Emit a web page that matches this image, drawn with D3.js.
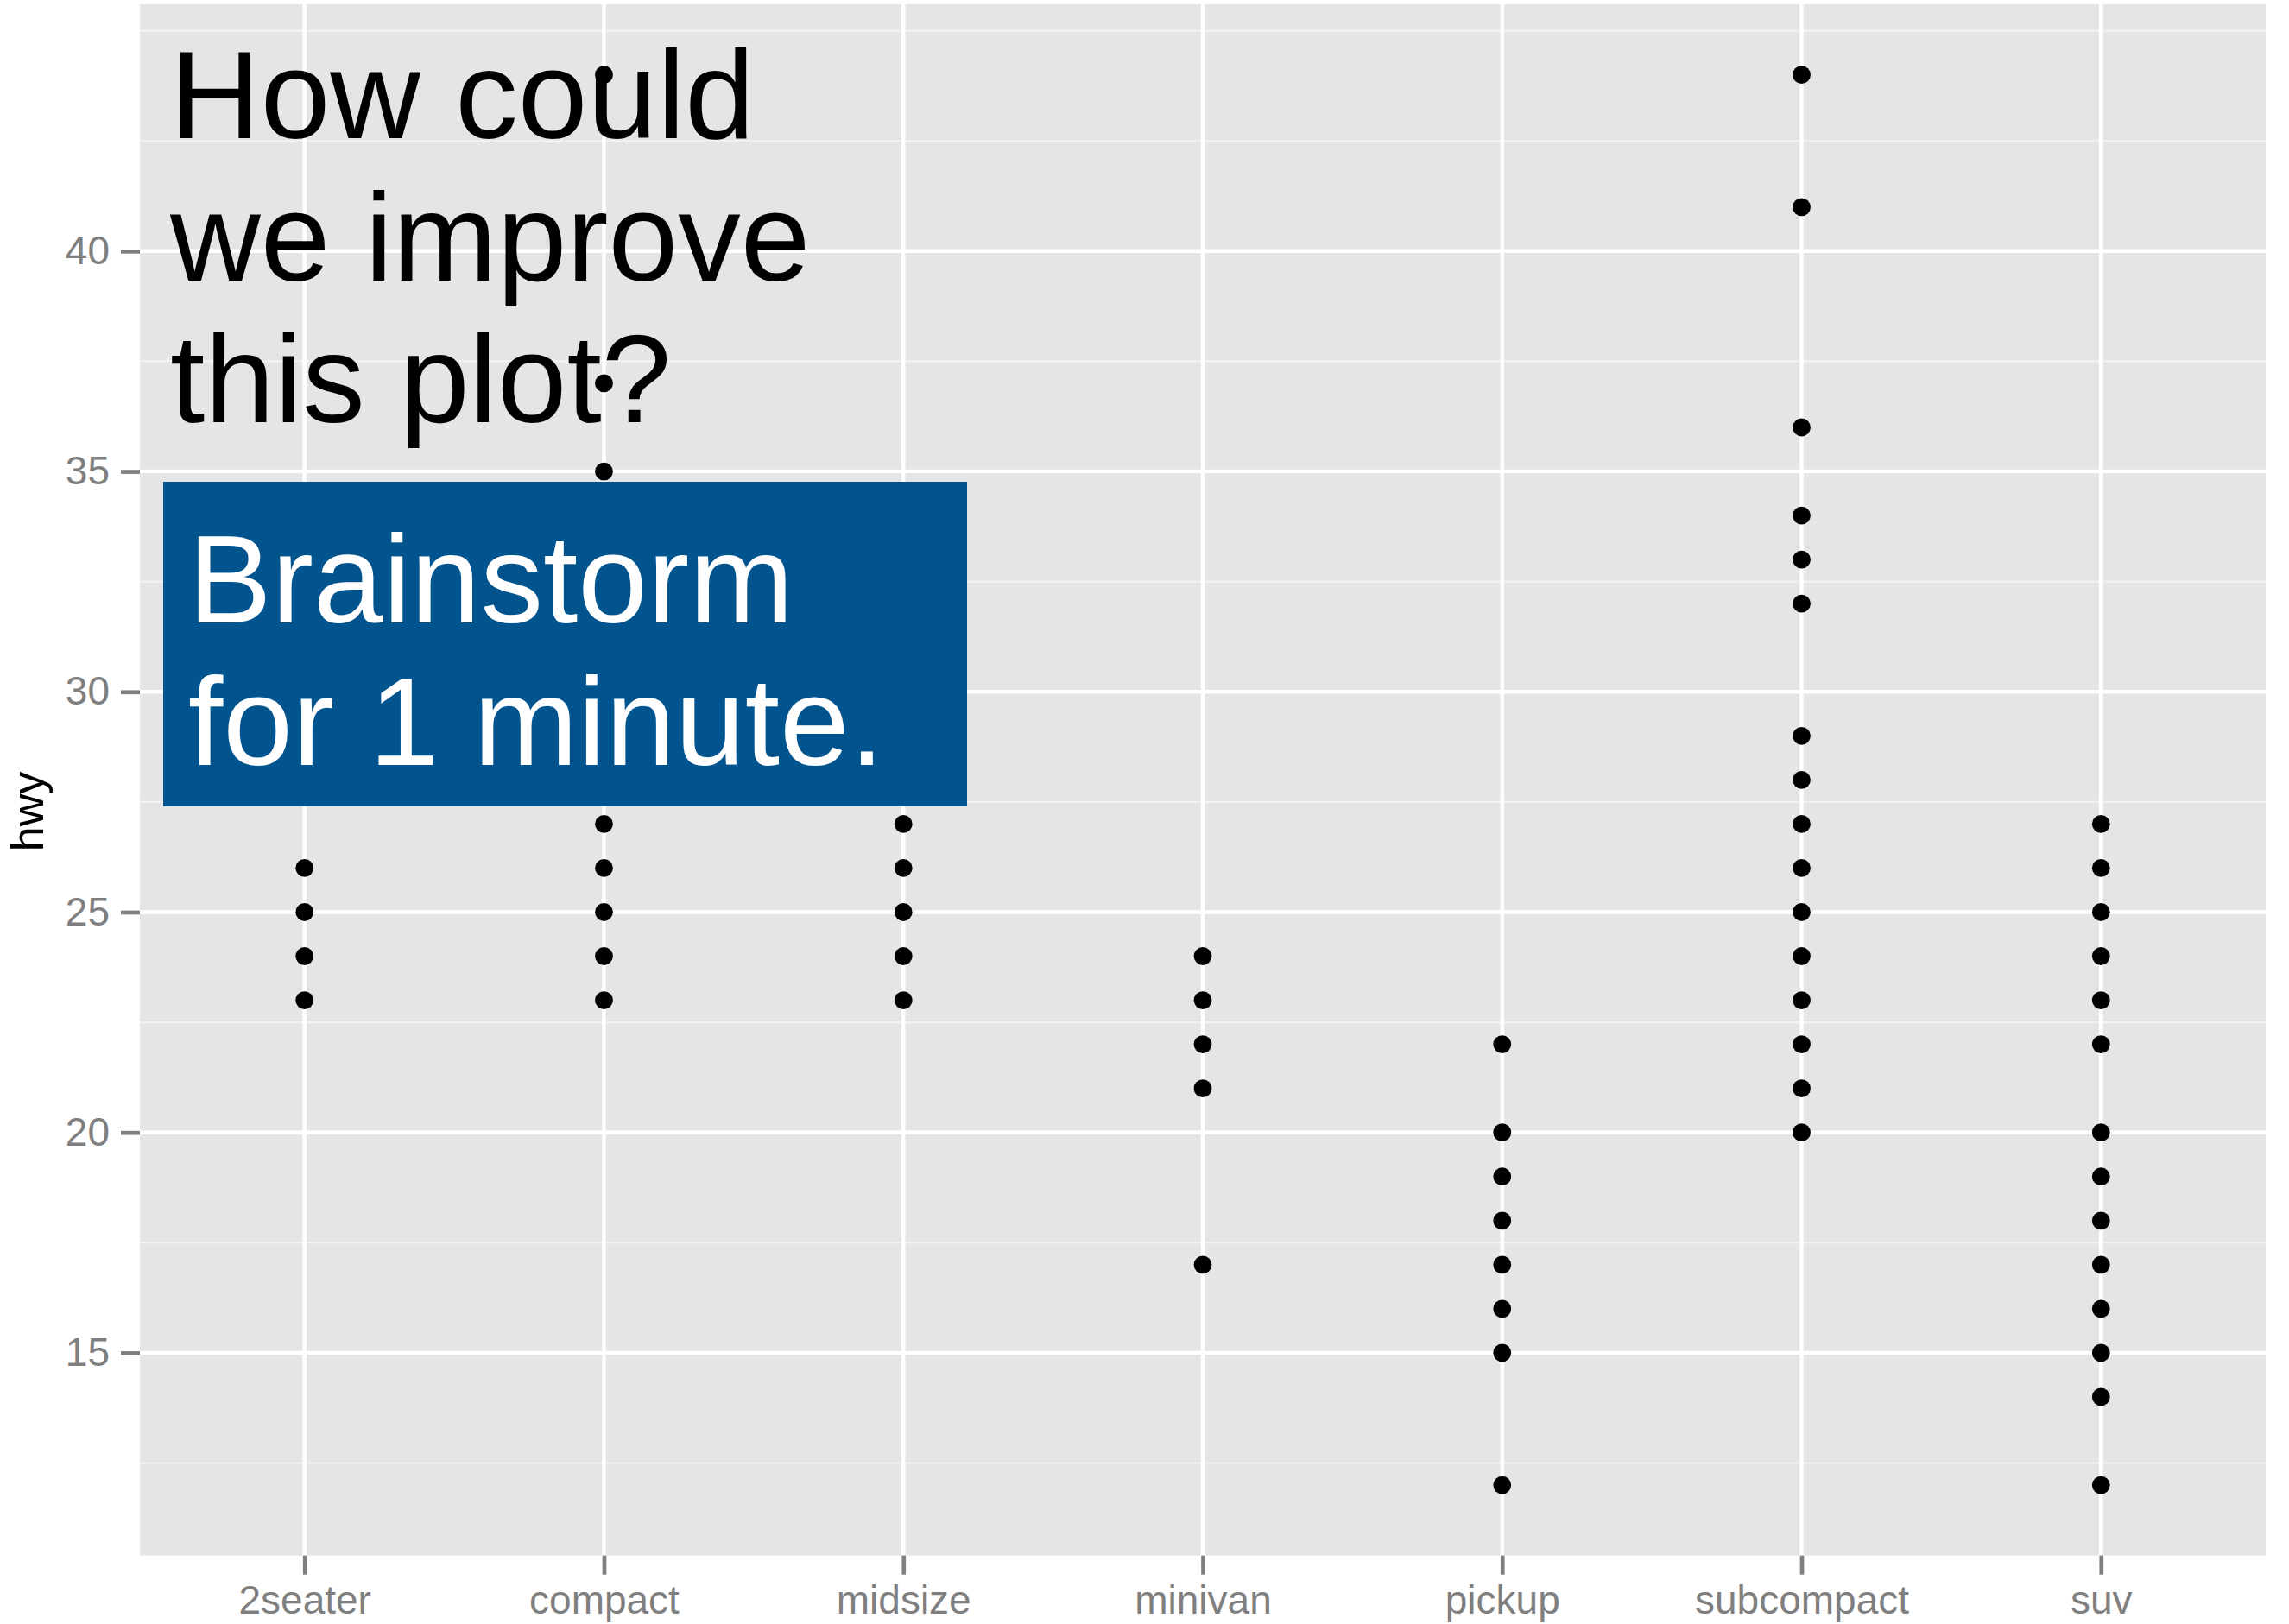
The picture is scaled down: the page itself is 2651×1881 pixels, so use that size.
<!DOCTYPE html>
<html>
<head>
<meta charset="utf-8">
<script src="https://cdn.jsdelivr.net/npm/d3@7"></script>
<style>
  body { margin: 0; background: #fff; }
  text { font-family: "Liberation Sans", Arial, Helvetica, sans-serif; }
</style>
</head>
<body>
<div id="graph-container"></div>
<script>
// hwy values by vehicle class (unique values, as plotted)
const classes = ["2seater", "compact", "midsize", "minivan", "pickup", "subcompact", "suv"];
const twoSeaterHwy = [23, 24, 25, 26];
const compactHwy = [23, 24, 25, 26, 27, 28, 29, 30, 31, 33, 35, 37, 44];
const midsizeHwy = [23, 24, 25, 26, 27, 28, 29, 30, 31, 32];
const minivanHwy = [17, 21, 22, 23, 24];
const pickupHwy = [12, 15, 16, 17, 18, 19, 20, 22];
const subcompactHwy = [20, 21, 22, 23, 24, 25, 26, 27, 28, 29, 32, 33, 34, 36, 41, 44];
const suvHwy = [12, 14, 15, 16, 17, 18, 19, 20, 22, 23, 24, 25, 26, 27];
const hwyByClass = [twoSeaterHwy, compactHwy, midsizeHwy, minivanHwy, pickupHwy, subcompactHwy, suvHwy];

const yTicks = [15, 20, 25, 30, 35, 40];
const yMinor = [12.5, 17.5, 22.5, 27.5, 32.5, 37.5, 42.5, 45];
const yDomain = [10.4, 45.6];

const titleLines = ["How could", "we improve", "this plot?"];
const boxLines = ["Brainstorm", "for 1 minute."];

const width = 2651;
const height = 1881;
const panel = { left: 162, right: 2624, top: 5, bottom: 1801.7 };

const svg = d3.select("#graph-container")
    .append("svg")
    .attr("width", width)
    .attr("height", height);

const x = d3.scalePoint()
    .domain(classes)
    .range([panel.left, panel.right])
    .padding(0.55);

const y = d3.scaleLinear()
    .domain(yDomain)
    .range([panel.bottom, panel.top]);

// panel background
svg.append("rect")
    .attr("x", panel.left)
    .attr("y", panel.top)
    .attr("width", panel.right - panel.left)
    .attr("height", panel.bottom - panel.top)
    .attr("fill", "#e5e5e5");

// grid
svg.append("g").selectAll("line")
    .data(yMinor)
    .join("line")
    .attr("x1", panel.left).attr("x2", panel.right)
    .attr("y1", d => y(d)).attr("y2", d => y(d))
    .attr("stroke", "#f2f2f2")
    .attr("stroke-width", 2.2);

svg.append("g").selectAll("line")
    .data(yTicks)
    .join("line")
    .attr("x1", panel.left).attr("x2", panel.right)
    .attr("y1", d => y(d)).attr("y2", d => y(d))
    .attr("stroke", "#fff")
    .attr("stroke-width", 4.5);

svg.append("g").selectAll("line")
    .data(classes)
    .join("line")
    .attr("x1", d => x(d)).attr("x2", d => x(d))
    .attr("y1", panel.top).attr("y2", panel.bottom)
    .attr("stroke", "#fff")
    .attr("stroke-width", 4.5);

// axes
const xAxis = svg.append("g")
    .attr("transform", `translate(0,${panel.bottom})`)
    .call(d3.axisBottom(x).tickSize(22).tickPadding(13));

const yAxis = svg.append("g")
    .attr("transform", `translate(${panel.left},0)`)
    .call(d3.axisLeft(y).tickValues(yTicks).tickSize(22).tickPadding(13));

[xAxis, yAxis].forEach(a => {
    a.select(".domain").remove();
    a.selectAll(".tick line")
        .attr("stroke", "#7f7f7f")
        .attr("stroke-width", 4.7);
    a.selectAll(".tick text")
        .attr("fill", "#7f7f7f")
        .style("font-size", "46px")
        .style("font-family", "'Liberation Sans', Arial, Helvetica, sans-serif");
});
xAxis.selectAll(".tick text").attr("dy", "0.71em");

// axis title
svg.append("text")
    .attr("transform", "translate(50,940) rotate(-90)")
    .attr("text-anchor", "middle")
    .style("font-size", "52px")
    .attr("fill", "#000")
    .text("hwy");

// points
const points = classes.flatMap((c, i) => hwyByClass[i].map(v => ({ cls: c, hwy: v })));

svg.append("g").selectAll("circle")
    .data(points)
    .join("circle")
    .attr("cx", d => x(d.cls))
    .attr("cy", d => y(d.hwy))
    .attr("r", 10.4)
    .attr("fill", "#000");

// overlay text
svg.append("g").selectAll("text")
    .data(titleLines)
    .join("text")
    .attr("x", 197)
    .attr("y", (d, i) => 160 + i * 164.5)
    .style("font-size", "145px")
    .attr("fill", "#000")
    .text(d => d);

svg.append("rect")
    .attr("x", 189)
    .attr("y", 558)
    .attr("width", 1120 - 189)
    .attr("height", 934 - 558)
    .attr("fill", "#02548f");

svg.append("g").selectAll("text")
    .data(boxLines)
    .join("text")
    .attr("x", 218)
    .attr("y", (d, i) => 721 + i * 165)
    .style("font-size", "145px")
    .attr("fill", "#fff")
    .text(d => d);
</script>
</body>
</html>
